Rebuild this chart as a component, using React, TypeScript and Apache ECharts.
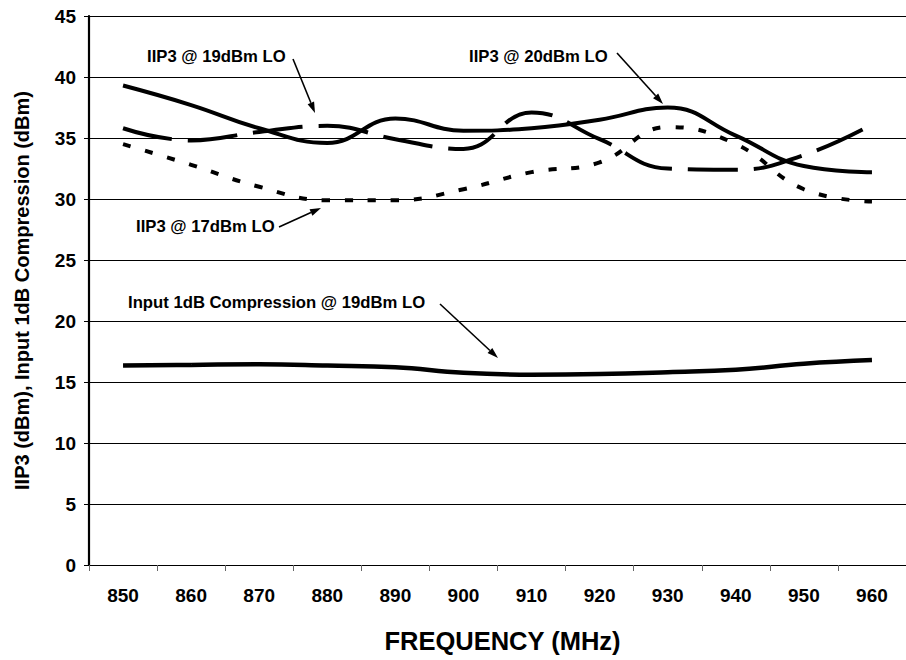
import React, { useEffect, useRef } from "react";
import * as echarts from "echarts";

const categories = ["850", "860", "870", "880", "890", "900", "910", "920", "930", "940", "950", "960"];
const iip3At20 = [39.3, 37.7, 35.8, 34.6, 36.6, 35.6, 35.8, 36.5, 37.5, 35.2, 32.7, 32.2];
const iip3At19 = [35.8, 34.8, 35.5, 36.0, 34.9, 34.1, 37.1, 34.9, 32.5, 32.4, 33.6, 36.1];
const iip3At17 = [34.5, 32.8, 31.0, 29.9, 29.9, 30.8, 32.2, 33.0, 35.9, 34.5, 30.8, 29.8];
const p1dbAt19 = [16.35, 16.4, 16.45, 16.35, 16.2, 15.75, 15.6, 15.65, 15.8, 16.0, 16.5, 16.8];
const yTicks = { min: 0, max: 45, interval: 5 };

const annotationTexts = [
  "IIP3 @ 19dBm LO",
  "IIP3 @ 20dBm LO",
  "IIP3 @ 17dBm LO",
  "Input 1dB Compression @ 19dBm LO",
];

const FONT = "'Liberation Sans', Arial, Helvetica, sans-serif";

function arrow(x1: number, y1: number, x2: number, y2: number) {
  const dx = x2 - x1;
  const dy = y2 - y1;
  const len = Math.sqrt(dx * dx + dy * dy);
  const ux = dx / len;
  const uy = dy / len;
  const hl = 11;
  const hw = 3.5;
  const bx = x2 - ux * hl;
  const by = y2 - uy * hl;
  return [
    {
      type: "line",
      shape: { x1, y1, x2: bx, y2: by },
      style: { stroke: "#000", lineWidth: 1.6 },
    },
    {
      type: "polygon",
      shape: {
        points: [
          [x2, y2],
          [bx - uy * hw, by + ux * hw],
          [bx + uy * hw, by - ux * hw],
        ],
      },
      style: { fill: "#000" },
    },
  ];
}

function label(text: string, x: number, y: number) {
  return {
    type: "text",
    x,
    y,
    style: {
      text,
      fill: "#000",
      font: `bold 16.7px ${FONT}`,
      verticalAlign: "middle",
    },
  };
}

export default function App() {
  const ref = useRef<HTMLDivElement>(null);
  useEffect(() => {
    if (!ref.current) return;
    const chart = echarts.init(ref.current, null, { renderer: "svg" });
    const lineBase = { type: "line", smooth: 0.45, showSymbol: false, symbol: "none" };
    chart.setOption({
      animation: false,
      backgroundColor: "#fff",
      grid: { left: 89, top: 16, width: 824, height: 549, containLabel: false },
      xAxis: {
        type: "category",
        data: categories,
        boundaryGap: true,
        name: "FREQUENCY (MHz)",
        nameLocation: "middle",
        nameGap: 63,
        nameTextStyle: { fontFamily: FONT, fontWeight: "bold", fontSize: 25.5, color: "#000", padding: [0, 0, 0, 10] },
        axisLine: { show: true, lineStyle: { color: "#000", width: 1.2 } },
        axisTick: { show: true, length: 6, lineStyle: { color: "#666", width: 1 } },
        axisLabel: { fontFamily: FONT, fontWeight: "bold", fontSize: 19, color: "#000", margin: 21 },
        splitLine: { show: false },
      },
      yAxis: {
        type: "value",
        min: yTicks.min,
        max: yTicks.max,
        interval: yTicks.interval,
        name: "IIP3 (dBm), Input 1dB Compression (dBm)",
        nameLocation: "middle",
        nameGap: 57,
        nameTextStyle: { fontFamily: FONT, fontWeight: "bold", fontSize: 20, color: "#000" },
        axisLine: { show: true, lineStyle: { color: "#000", width: 2.2 } },
        axisTick: { show: true, length: 5, lineStyle: { color: "#000", width: 1 } },
        axisLabel: { fontFamily: FONT, fontWeight: "bold", fontSize: 19, color: "#000", margin: 13 },
        splitLine: { show: true, lineStyle: { color: "#000", width: 1.2 } },
      },
      series: [
        { ...lineBase, name: "IIP3 @ 20dBm LO", data: iip3At20, lineStyle: { color: "#000", width: 4 } },
        { ...lineBase, name: "IIP3 @ 19dBm LO", data: iip3At19, lineStyle: { color: "#000", width: 4, type: [50, 16], cap: "butt" } },
        { ...lineBase, name: "IIP3 @ 17dBm LO", data: iip3At17, lineStyle: { color: "#000", width: 4, type: [8, 15], cap: "butt" } },
        { ...lineBase, name: "Input 1dB Compression @ 19dBm LO", data: p1dbAt19, lineStyle: { color: "#000", width: 4.5 } },
      ],
      graphic: [
        label(annotationTexts[0], 147, 56),
        ...arrow(293, 59, 315, 113),
        label(annotationTexts[1], 469, 56),
        ...arrow(617, 53, 663, 104),
        label(annotationTexts[2], 136, 226),
        ...arrow(279, 227, 321, 208),
        label(annotationTexts[3], 128, 302),
        ...arrow(440, 304, 498, 358),
      ],
    });
    return () => chart.dispose();
  }, []);
  return (
    <div
      ref={ref}
      style={{ position: "fixed", left: 0, top: 0, width: 906, height: 660, background: "#fff" }}
    />
  );
}
